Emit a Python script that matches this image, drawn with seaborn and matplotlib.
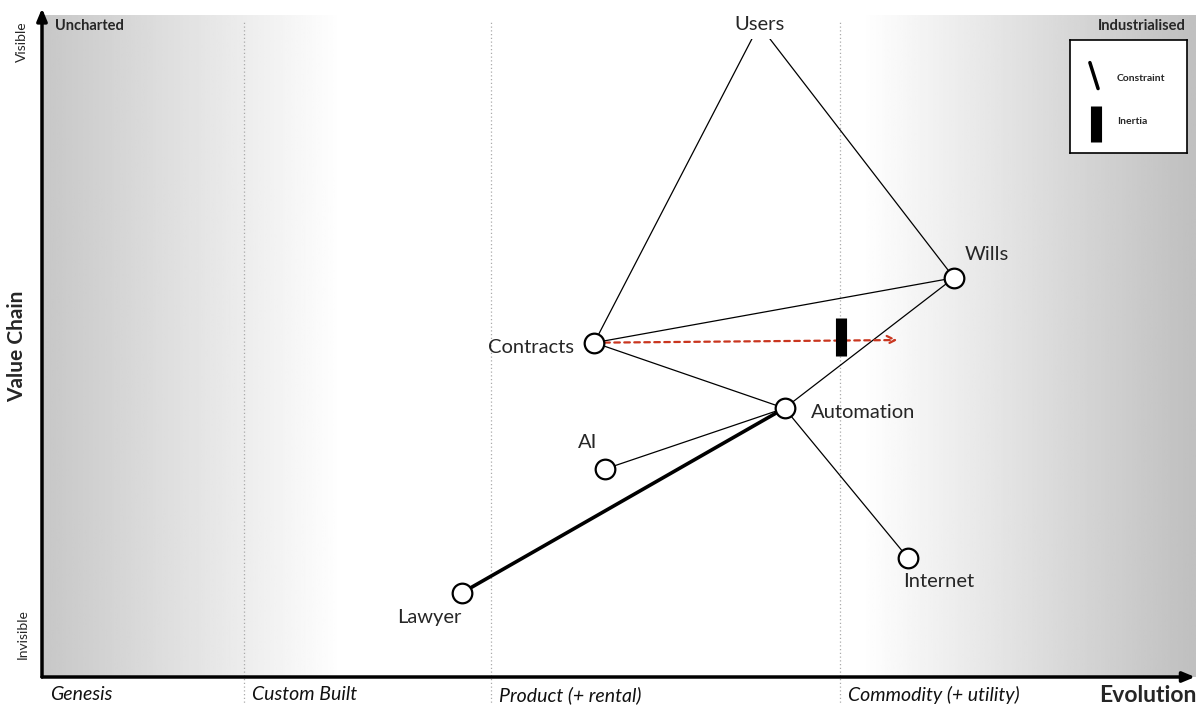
import numpy as np
import pandas as pd
import matplotlib
matplotlib.use("Agg")
import matplotlib.pyplot as plt
import seaborn as sns

# Wardley map components: evolution (x, 0-1) and visibility (y, 0-1)
names = ["Users", "Wills", "Contracts", "Automation", "AI", "Internet", "Lawyer"]
evolution = [0.622, 0.791, 0.479, 0.644, 0.488, 0.751, 0.364]
visibility = [0.985, 0.603, 0.505, 0.406, 0.314, 0.180, 0.127]
show_node = [False, True, True, True, True, True, True]

links = [("Users", "Contracts"), ("Users", "Wills"), ("Contracts", "Wills"),
         ("Contracts", "Automation"), ("Wills", "Automation"),
         ("AI", "Automation"), ("Automation", "Internet")]
constraint_links = [("Lawyer", "Automation")]

phase_names = ["Genesis", "Custom Built", "Product (+ rental)", "Commodity (+ utility)"]
phase_starts = [0.0, 0.175, 0.389, 0.692]

# movement of Contracts and its inertia
move_from = "Contracts"
move_to_x = 0.742
inertia_x = 0.693

nodes = pd.DataFrame({"name": names, "x": evolution, "y": visibility, "show": show_node})
pos = {r.name: (r.x, r.y) for r in nodes.itertuples()}

sns.set_theme(style="white")
plt.rcParams['font.family'] = ['Lato', 'DejaVu Sans']

fig = plt.figure(figsize=(11.99, 7.05), dpi=100)
ax = fig.add_axes([42 / 1199, 28 / 705, 1153 / 1199, 662 / 705])
ax.set_xlim(0, 1)
ax.set_ylim(0, 1)
for s in ax.spines.values():
    s.set_visible(False)
ax.set_xticks([])
ax.set_yticks([])

# background gradient: grey at both ends, white in the middle
cols = np.linspace(0, 1, 600)
grad = np.ones_like(cols)
left = cols < 0.26
grad[left] = 0.78 + 0.22 * (cols[left] / 0.26)
right = cols > 0.71
grad[right] = 1 - 0.25 * ((cols[right] - 0.71) / 0.29)
ax.imshow(np.tile(grad, (2, 1)), cmap="gray", vmin=0, vmax=1, aspect="auto",
          extent=(0, 1, 0, 1), zorder=0)

# phase separators
for xs in phase_starts[1:]:
    ax.plot([xs, xs], [-0.06, 0.99], color="#aaaaaa", lw=0.9, ls=(0, (1, 2)),
            clip_on=False, zorder=1)
for name, xs in zip(phase_names, phase_starts):
    ax.text(xs + 0.007, -0.027, name, fontsize=14, style="italic", ha="left",
            va="center", color="#111111")

# axes arrows
ax.annotate("", xy=(1.0, 0), xytext=(0, 0), xycoords="axes fraction",
            arrowprops=dict(arrowstyle="-|>,head_length=0.6,head_width=0.25",
                            color="black", lw=2.5, shrinkA=0, shrinkB=0))
ax.annotate("", xy=(0, 1.01), xytext=(0, 0), xycoords="axes fraction",
            arrowprops=dict(arrowstyle="-|>,head_length=0.6,head_width=0.25",
                            color="black", lw=2.5, shrinkA=0, shrinkB=0))

ax.text(1.001, -0.028, "Evolution", fontsize=16.5, fontweight="bold", ha="right", va="center")
ax.text(-0.022, 0.5, "Value Chain", fontsize=15, fontweight="bold", rotation=90,
        ha="center", va="center")
ax.text(-0.017, 0.96, "Visible", fontsize=10, rotation=90, ha="center", va="center")
ax.text(-0.017, 0.065, "Invisible", fontsize=10, rotation=90, ha="center", va="center")
ax.text(0.011, 0.983, "Uncharted", fontsize=10.5, fontweight="bold", ha="left", va="center")
ax.text(0.992, 0.983, "Industrialised", fontsize=10.5, fontweight="bold", ha="right", va="center")

# links
for a, b in links:
    ax.plot([pos[a][0], pos[b][0]], [pos[a][1], pos[b][1]], color="black", lw=0.9, zorder=2)
for a, b in constraint_links:
    ax.plot([pos[a][0], pos[b][0]], [pos[a][1], pos[b][1]], color="black", lw=2.6, zorder=2)

# movement arrow + inertia
fx, fy = pos[move_from]
ax.annotate("", xy=(move_to_x, fy + 0.004), xytext=(fx, fy),
            arrowprops=dict(arrowstyle="->,head_length=0.5,head_width=0.25",
                            color="#c9361f", lw=1.6, ls=(0, (2.5, 2)),
                            shrinkA=0, shrinkB=0), zorder=3)
ax.plot([inertia_x, inertia_x], [fy - 0.02, fy + 0.037], color="black", lw=8,
        solid_capstyle="butt", zorder=4)

# components
shown = nodes[nodes["show"]]
sns.scatterplot(data=shown, x="x", y="y", ax=ax, s=200, color="white",
                edgecolor="black", linewidth=1.6, zorder=5, legend=False)
ax.set_xlabel("")
ax.set_ylabel("")

label_off = {"Users": (0, 0, "center"), "Wills": (0.009, 0.035, "left"),
             "Contracts": (-0.055, -0.008, "center"), "Automation": (0.023, -0.006, "left"),
             "AI": (-0.015, 0.04, "center"), "Internet": (0.027, -0.036, "center"),
             "Lawyer": (-0.028, -0.037, "center")}
for r in nodes.itertuples():
    dx, dy, ha = label_off[r.name]
    bbox = dict(facecolor="white", edgecolor="none", pad=4) if r.name == "Users" else None
    ax.text(r.x + dx, r.y + dy, r.name, fontsize=14.5, ha=ha, va="center", bbox=bbox, zorder=6)

# legend box
lg = fig.add_axes([1070 / 1199, (705 - 153) / 705, 117 / 1199, 113 / 705])
lg.set_xlim(0, 1)
lg.set_ylim(0, 1)
lg.set_xticks([])
lg.set_yticks([])
for s in lg.spines.values():
    s.set_color("black")
    s.set_linewidth(1.2)
lg.set_facecolor("white")
lg.plot([0.17, 0.24], [0.8, 0.57], color="black", lw=2.5)
lg.text(0.4, 0.66, "Constraint", fontsize=7.5, fontweight="bold", va="center")
lg.plot([0.22, 0.22], [0.1, 0.42], color="black", lw=8, solid_capstyle="butt")
lg.text(0.4, 0.28, "Inertia", fontsize=7.5, fontweight="bold", va="center")

fig.savefig("out.png", dpi=100)
